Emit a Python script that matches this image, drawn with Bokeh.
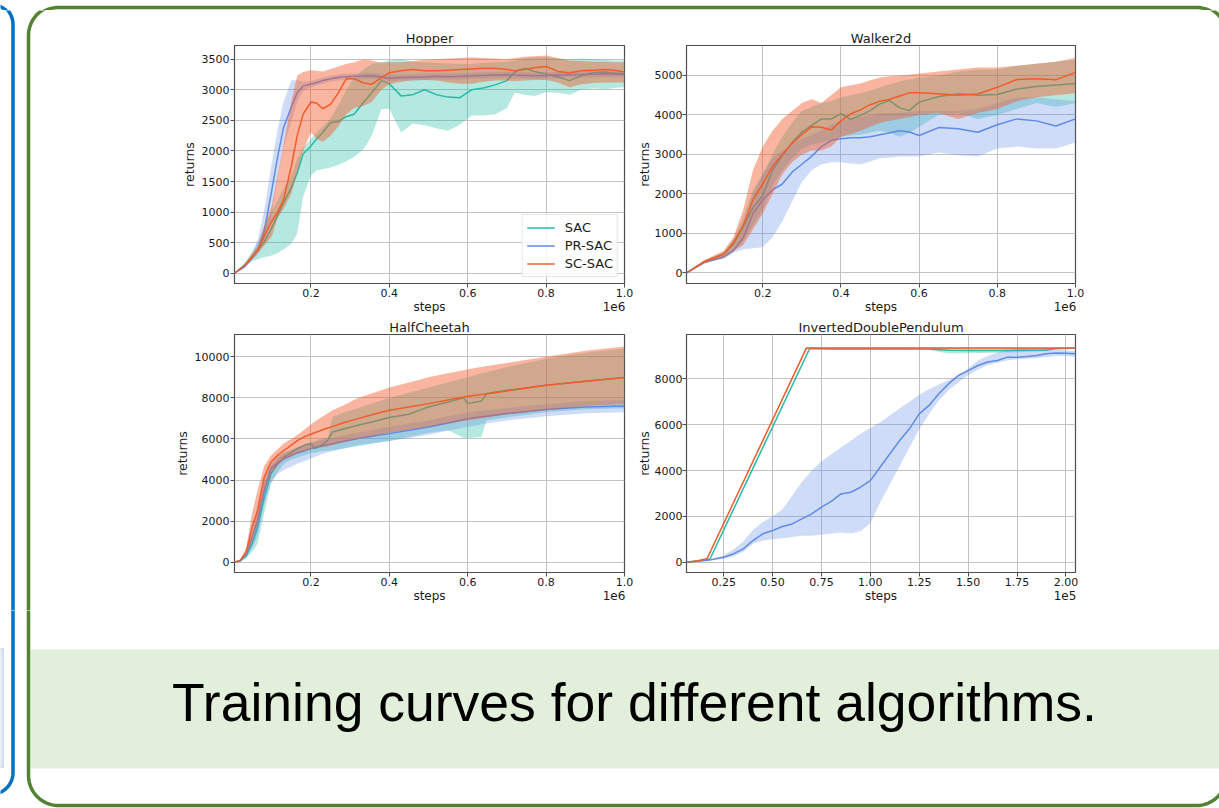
import numpy as np
from bokeh.plotting import figure
from bokeh.layouts import row, column
from bokeh.models import (Range1d, FixedTicker, NumeralTickFormatter, LinearAxis,
                          CustomJSTickFormatter, Legend, LegendItem)
from bokeh.core.properties import value
from bokeh.embed import file_html
from bokeh.resources import INLINE

# ---------------------------------------------------------------- data
series_names = ["SAC", "PR-SAC", "SC-SAC"]
caption = "Training curves for different algorithms."

# Hopper (steps in units of 1e6)
hopper_x = [0.005, 0.03, 0.05, 0.065, 0.08, 0.1, 0.115, 0.13, 0.15, 0.165, 0.18, 0.2, 0.215,
            0.23, 0.25, 0.27, 0.29, 0.31, 0.335, 0.355, 0.38, 0.4, 0.43, 0.46, 0.49, 0.52,
            0.55, 0.58, 0.61, 0.64, 0.67, 0.7, 0.72, 0.745, 0.77, 0.8, 0.83, 0.86, 0.89,
            0.92, 0.95, 0.975, 1.0]
hopper_sac = [0, 130, 270, 380, 500, 740, 950, 1150, 1400, 1640, 1950, 2080, 2200, 2300, 2460,
              2480, 2560, 2600, 2800, 2950, 3150, 3100, 2900, 2920, 3000, 2920, 2880, 2870,
              3000, 3030, 3080, 3150, 3290, 3350, 3300, 3260, 3210, 3150, 3230, 3280, 3290,
              3270, 3260]
hopper_sac_lo = [0, 110, 200, 230, 260, 290, 330, 390, 480, 650, 1250, 1600, 1680, 1700, 1730,
                 1770, 1830, 1900, 2030, 2250, 2680, 2690, 2300, 2450, 2420, 2370, 2330, 2430,
                 2580, 2580, 2600, 2700, 2950, 2920, 2900, 2960, 2950, 2920, 3000, 3020, 3010,
                 3030, 3040]
hopper_sac_hi = [0, 160, 350, 520, 750, 1000, 1200, 1380, 1600, 1870, 2050, 2200, 2300, 2400,
                 2530, 2750, 3000, 3200, 3340, 3420, 3450, 3480, 3500, 3460, 3450, 3440, 3430,
                 3420, 3420, 3440, 3450, 3460, 3480, 3520, 3530, 3530, 3510, 3500, 3510, 3500,
                 3490, 3480, 3480]
hopper_pr = [0, 100, 250, 390, 660, 1350, 1900, 2380, 2720, 2950, 3060, 3095, 3120, 3150, 3180,
             3200, 3215, 3220, 3225, 3230, 3210, 3190, 3200, 3205, 3210, 3220, 3215, 3220, 3230,
             3235, 3240, 3245, 3240, 3235, 3230, 3235, 3240, 3245, 3250, 3255, 3260, 3255, 3250]
hopper_pr_lo = [0, 90, 210, 320, 480, 950, 1550, 2050, 2480, 2800, 2980, 3040, 3070, 3100, 3130,
                3150, 3165, 3170, 3175, 3180, 3160, 3140, 3150, 3155, 3160, 3170, 3165, 3170,
                3180, 3185, 3190, 3195, 3190, 3185, 3180, 3185, 3190, 3195, 3200, 3205, 3210,
                3205, 3200]
hopper_pr_hi = [0, 120, 320, 550, 1000, 1800, 2350, 2800, 3150, 3160, 3130, 3140, 3170, 3200,
                3230, 3250, 3265, 3270, 3275, 3280, 3260, 3240, 3250, 3255, 3260, 3270, 3265,
                3270, 3280, 3285, 3290, 3295, 3290, 3285, 3280, 3285, 3290, 3295, 3300, 3305,
                3310, 3305, 3300]
hopper_sc = [0, 120, 270, 380, 600, 850, 1000, 1200, 1750, 2250, 2600, 2800, 2780, 2690, 2760,
             2950, 3180, 3180, 3110, 3090, 3200, 3280, 3310, 3330, 3310, 3310, 3320, 3330, 3340,
             3350, 3350, 3330, 3310, 3330, 3360, 3380, 3300, 3280, 3310, 3320, 3330, 3320, 3290]
hopper_sc_lo = [0, 110, 230, 330, 450, 600, 900, 1050, 1300, 1650, 2000, 2300, 2200, 2150, 2250,
                2400, 2600, 2700, 2740, 2800, 3000, 3090, 3130, 3150, 3160, 3150, 3120, 3100,
                3100, 3130, 3150, 3150, 3140, 3150, 3160, 3160, 3120, 3040, 3090, 3110, 3120,
                3120, 3120]
hopper_sc_hi = [0, 140, 320, 450, 750, 1100, 1600, 2100, 2800, 3230, 3290, 3320, 3310, 3300,
                3340, 3380, 3420, 3450, 3500, 3480, 3440, 3450, 3450, 3470, 3490, 3500, 3510,
                3520, 3530, 3520, 3510, 3500, 3520, 3540, 3550, 3560, 3520, 3480, 3470, 3460,
                3460, 3450, 3450]

# Walker2d (steps in units of 1e6)
walker_x = [0.005, 0.05, 0.1, 0.125, 0.15, 0.175, 0.2, 0.225, 0.25, 0.275, 0.3, 0.325, 0.35,
            0.375, 0.4, 0.425, 0.45, 0.475, 0.5, 0.525, 0.55, 0.575, 0.6, 0.65, 0.7, 0.75, 0.8,
            0.85, 0.9, 0.95, 1.0]
walker_sac = [0, 270, 480, 720, 1160, 1650, 1960, 2600, 2970, 3300, 3565, 3735, 3900, 3900,
              4030, 3890, 3990, 4110, 4280, 4365, 4180, 4110, 4325, 4470, 4535, 4500, 4520,
              4660, 4720, 4760, 4800]
walker_sac_lo = [0, 230, 400, 560, 800, 1200, 1600, 2200, 2600, 2900, 3150, 3250, 3300, 3350,
                 3450, 3480, 3500, 3550, 3600, 3550, 3450, 3550, 3700, 4000, 4050, 3900, 4000,
                 4150, 4300, 4200, 4300]
walker_sac_hi = [0, 310, 520, 850, 1400, 2100, 2500, 3000, 3450, 3800, 4100, 4200, 4300, 4350,
                 4450, 4500, 4550, 4620, 4700, 4780, 4850, 4900, 4950, 5000, 5100, 5150, 5150,
                 5250, 5300, 5350, 5400]
walker_pr = [0, 260, 400, 560, 880, 1500, 1850, 2100, 2250, 2550, 2750, 2950, 3200, 3350, 3400,
             3420, 3420, 3450, 3500, 3550, 3600, 3570, 3480, 3680, 3650, 3560, 3750, 3900, 3850,
             3720, 3900]
walker_pr_lo = [0, 240, 350, 500, 600, 620, 650, 900, 1300, 1800, 2300, 2600, 2750, 2800, 2800,
                2770, 2750, 2820, 2900, 2920, 2950, 2950, 2950, 3050, 2980, 2950, 3150, 3200,
                3150, 3150, 3300]
walker_pr_hi = [0, 290, 450, 650, 1100, 2000, 2500, 2900, 3100, 3250, 3400, 3500, 3600, 3750,
                3850, 3900, 3950, 4000, 4050, 4050, 4050, 4080, 4100, 4100, 4100, 4150, 4300,
                4450, 4450, 4400, 4350]
walker_sc = [0, 280, 470, 760, 1200, 1850, 2250, 2700, 3000, 3280, 3500, 3700, 3690, 3620, 3850,
             4030, 4130, 4260, 4350, 4400, 4480, 4560, 4560, 4540, 4500, 4530, 4700, 4900, 4920,
             4890, 5080]
walker_sc_lo = [0, 250, 380, 550, 700, 1100, 1500, 2000, 2500, 2800, 3000, 3100, 3100, 3200,
                3450, 3520, 3600, 3700, 3800, 3850, 3900, 3950, 4000, 4050, 3900, 4050, 4150,
                4350, 4450, 4500, 4550]
walker_sc_hi = [0, 320, 560, 900, 1600, 2600, 3200, 3600, 3900, 4100, 4300, 4400, 4300, 4500,
                4700, 4750, 4800, 4880, 4950, 4980, 5000, 5020, 5050, 5100, 5150, 5200, 5200,
                5250, 5300, 5350, 5450]

# HalfCheetah (steps in units of 1e6)
cheetah_x = [0.005, 0.02, 0.035, 0.05, 0.064, 0.081, 0.098, 0.115, 0.132, 0.15, 0.166, 0.183,
             0.2, 0.21, 0.226, 0.243, 0.255, 0.285, 0.32, 0.36, 0.4, 0.45, 0.5, 0.55, 0.59, 0.6,
             0.635, 0.648, 0.7, 0.8, 0.9, 1.0]
cheetah_sac = [0, 60, 300, 900, 1700, 3170, 4300, 4800, 5120, 5350, 5530, 5690, 5770, 5530,
               5690, 5935, 6340, 6500, 6670, 6850, 7040, 7200, 7560, 7800, 8000, 7720, 7850,
               8210, 8370, 8620, 8810, 8990]
cheetah_sac_lo = [0, 40, 200, 500, 900, 2400, 3800, 4400, 4800, 5000, 5100, 5200, 5300, 5330,
                  5400, 5430, 5450, 5530, 5650, 5780, 5900, 6100, 6300, 6420, 6050, 6050, 6100,
                  6900, 7050, 7300, 7450, 7500]
cheetah_sac_hi = [0, 80, 400, 1300, 2500, 3900, 4700, 5050, 5300, 5450, 5600, 5750, 5850, 5900,
                  6000, 6060, 7070, 7300, 7500, 7750, 8000, 8250, 8500, 8750, 8950, 9000, 9200,
                  9250, 9500, 9900, 10200, 10400]
cheetah_pr = [0, 80, 400, 1220, 2030, 3500, 4550, 4850, 5040, 5200, 5320, 5430, 5530, 5580,
              5650, 5720, 5770, 5890, 6020, 6140, 6260, 6420, 6585, 6780, 6950, 6990, 7080,
              7110, 7240, 7430, 7560, 7610]
cheetah_pr_lo = [0, 50, 250, 700, 1300, 2800, 3900, 4300, 4500, 4650, 4800, 4920, 5050, 5120,
                 5250, 5350, 5400, 5550, 5700, 5800, 5900, 6050, 6200, 6400, 6560, 6600, 6700,
                 6750, 6900, 7100, 7250, 7300]
cheetah_pr_hi = [0, 110, 550, 1700, 2800, 4200, 4900, 5150, 5350, 5480, 5600, 5700, 5800, 5850,
                 5950, 6020, 6050, 6180, 6300, 6450, 6600, 6750, 6900, 7100, 7250, 7300, 7380,
                 7400, 7500, 7700, 7850, 7900]
cheetah_sc = [0, 100, 500, 1700, 2520, 4150, 4880, 5200, 5450, 5700, 5935, 6100, 6230, 6300,
              6420, 6530, 6600, 6800, 6990, 7200, 7400, 7560, 7720, 7900, 8040, 8080, 8160,
              8190, 8340, 8620, 8810, 8990]
cheetah_sc_lo = [0, 80, 350, 1000, 1800, 3400, 4300, 4700, 5000, 5150, 5300, 5400, 5500, 5550,
                 5600, 5650, 5700, 5850, 6000, 6150, 6300, 6450, 6600, 6750, 6870, 6900, 7000,
                 7050, 7200, 7400, 7600, 7700]
cheetah_sc_hi = [0, 130, 700, 2400, 3500, 4700, 5200, 5500, 5800, 6000, 6200, 6450, 6700, 6850,
                 7050, 7250, 7400, 7650, 8000, 8250, 8500, 8750, 9000, 9200, 9350, 9400, 9500,
                 9550, 9700, 10000, 10300, 10500]

# InvertedDoublePendulum (steps in units of 1e5)
idp_sac_x = [0.06, 0.12, 0.18, 0.69, 0.8, 1.0, 1.3, 1.4, 1.5, 1.7, 1.9, 1.95, 2.05]
idp_sac = [0, 60, 140, 9320, 9300, 9300, 9300, 9250, 9240, 9240, 9260, 9320, 9330]
idp_sac_lo = [0, 50, 120, 9280, 9270, 9270, 9250, 9100, 9120, 9150, 9200, 9300, 9320]
idp_sac_hi = [0, 70, 160, 9350, 9340, 9340, 9340, 9340, 9340, 9350, 9340, 9340, 9340]
idp_pr_x = [0.06, 0.17, 0.25, 0.3, 0.35, 0.4, 0.45, 0.5, 0.55, 0.6, 0.65, 0.7, 0.75, 0.8, 0.85,
            0.9, 0.95, 1.0, 1.05, 1.1, 1.15, 1.2, 1.25, 1.3, 1.35, 1.4, 1.45, 1.5, 1.55, 1.6,
            1.65, 1.7, 1.75, 1.8, 1.85, 1.9, 1.95, 2.0, 2.05]
idp_pr = [0, 80, 220, 360, 580, 945, 1240, 1380, 1560, 1670, 1890, 2110, 2400, 2650, 2980, 3050,
          3270, 3560, 4145, 4730, 5310, 5820, 6470, 6840, 7345, 7780, 8145, 8360, 8580, 8730,
          8800, 8945, 8945, 8975, 9020, 9090, 9130, 9120, 9090]
idp_pr_lo = [0, 60, 150, 250, 450, 800, 950, 1000, 1050, 1100, 1150, 1150, 1200, 1250, 1300,
             1250, 1350, 1700, 2600, 3400, 4200, 5000, 5800, 6470, 7050, 7500, 7850, 8150, 8400,
             8600, 8700, 8800, 8850, 8880, 8900, 8950, 8980, 9000, 8950]
idp_pr_hi = [0, 100, 300, 550, 900, 1400, 1750, 2000, 2300, 2900, 3500, 4000, 4400, 4700, 5000,
             5300, 5600, 5850, 6100, 6400, 6700, 7000, 7300, 7550, 7750, 7950, 8150, 8450, 8800,
             9000, 9150, 9250, 9300, 9320, 9330, 9330, 9320, 9250, 9200]
idp_sc_x = [0.06, 0.12, 0.165, 0.673, 2.05]
idp_sc = [0, 60, 150, 9340, 9340]
idp_sc_lo = [0, 50, 130, 9310, 9320]
idp_sc_hi = [0, 70, 170, 9360, 9360]

x_ticks_1e6 = [0.2, 0.4, 0.6, 0.8, 1.0]
x_ticks_1e5 = [0.25, 0.5, 0.75, 1.0, 1.25, 1.5, 1.75, 2.0]
hopper_yticks = [0, 500, 1000, 1500, 2000, 2500, 3000, 3500]
walker_yticks = [0, 1000, 2000, 3000, 4000, 5000]
cheetah_yticks = [0, 2000, 4000, 6000, 8000, 10000]
idp_yticks = [0, 2000, 4000, 6000, 8000]

# ---------------------------------------------------------------- styles
COLORS = {"SAC": "#27bba5", "PR-SAC": "#5f8be6", "SC-SAC": "#f25c2a"}
ALPHAS = {"SAC": 0.34, "PR-SAC": 0.3, "SC-SAC": 0.45}
FONT = "DejaVu Sans"
INK = "#1a1a1a"
FRAME_W = 390


def style_axis(ax):
    ax.axis_line_color = None
    ax.major_tick_out = 4
    ax.major_tick_in = 0
    ax.minor_tick_out = 0
    ax.minor_tick_in = 0
    ax.major_tick_line_color = "#4d4d4d"
    ax.major_label_text_font = FONT
    ax.major_label_text_font_size = "11px"
    ax.major_label_text_color = INK
    ax.axis_label_text_font = FONT
    ax.axis_label_text_font_size = "12.5px"
    ax.axis_label_text_font_style = "normal"
    ax.axis_label_text_color = INK


def make_panel(title, series, xr, yr, xticks, yticks, xfmt, offset_text,
               w, h, bl, br, bt, bb, ystand=(1, 2), legend=False):
    p = figure(width=w, height=h, x_range=Range1d(*xr), y_range=Range1d(*yr),
               output_backend="svg", toolbar_location=None, title=title,
               min_border_left=bl, min_border_right=br,
               min_border_top=bt, min_border_bottom=bb)
    p.title.text_font = FONT
    p.title.text_font_size = "13px"
    p.title.text_font_style = "normal"
    p.title.text_color = INK
    p.title.align = "center"
    p.title.standoff = 0
    p.background_fill_color = "white"
    p.border_fill_color = "white"
    p.outline_line_color = "#4d4d4d"
    p.outline_line_width = 1.2

    xax = p.xaxis[0]
    yax = p.yaxis[0]
    style_axis(xax)
    style_axis(yax)
    xax.ticker = FixedTicker(ticks=xticks)
    xax.formatter = NumeralTickFormatter(format=xfmt)
    xax.major_label_standoff = 1
    yax.ticker = FixedTicker(ticks=yticks)
    yax.formatter = NumeralTickFormatter(format="0")
    yax.axis_label = "returns"
    yax.major_label_standoff = ystand[0]
    yax.axis_label_standoff = ystand[1]
    p.grid.grid_line_color = "#c2c2c2"
    p.grid.grid_line_width = 1

    # second row under the tick labels: "steps" centred, offset text at the right
    mid = (xr[0] + xr[1]) / 2
    off_pos = xr[1] - 10.5 / FRAME_W * (xr[1] - xr[0])
    sub = LinearAxis(ticker=FixedTicker(ticks=[mid, off_pos]),
                     formatter=CustomJSTickFormatter(
                         args=dict(mid=mid, off=offset_text),
                         code="return (tick > mid) ? off : 'steps';"))
    sub.axis_line_color = None
    sub.major_tick_out = 0
    sub.major_tick_in = 0
    sub.minor_tick_out = 0
    sub.minor_tick_in = 0
    sub.major_tick_line_color = None
    sub.major_label_standoff = 0
    sub.major_label_text_font = FONT
    sub.major_label_text_font_size = "12px"
    sub.major_label_text_color = INK
    p.add_layout(sub, "below")

    items = []
    for name, xs, mean, lo, hi in series:
        c = COLORS[name]
        p.varea(x=xs, y1=lo, y2=hi, fill_color=c, fill_alpha=ALPHAS[name])
        r = p.line(xs, mean, line_color=c, line_width=1.5)
        items.append(LegendItem(label=name, renderers=[r]))

    if legend:
        lg = Legend(items=items, location="bottom_right")
        lg.margin = 6
        lg.padding = 4
        lg.spacing = 1
        lg.glyph_width = 28
        lg.glyph_height = 17
        lg.label_height = 17
        lg.label_standoff = 10
        lg.label_text_font = FONT
        lg.label_text_font_size = "13px"
        lg.label_text_color = INK
        lg.border_line_color = "#d0d0d0"
        lg.border_line_width = 1
        lg.background_fill_alpha = 0.85
        p.add_layout(lg)
    return p


def rounded_rect(x0, y0, x1, y1, r, n=24):
    t = np.linspace(0, np.pi / 2, n)
    xs = np.concatenate([
        (x0 + r) - r * np.cos(t), (x1 - r) + r * np.sin(t),
        (x1 - r) + r * np.cos(t), (x0 + r) - r * np.sin(t)])
    ys = np.concatenate([
        (y0 + r) - r * np.sin(t), (y0 + r) - r * np.cos(t),
        (y1 - r) + r * np.sin(t), (y1 - r) + r * np.cos(t)])
    return list(xs) + [xs[0]], list(ys) + [ys[0]]


def deco(x0, x1, y0, y1, with_caption=False):
    p = figure(width=x1 - x0, height=y1 - y0, x_range=Range1d(x0, x1),
               y_range=Range1d(y1, y0), output_backend="svg", toolbar_location=None,
               x_axis_type=None, y_axis_type=None,
               min_border_left=0, min_border_right=0, min_border_top=0, min_border_bottom=0)
    p.outline_line_color = None
    p.background_fill_color = "white"
    p.border_fill_color = "white"
    # caption band
    p.quad(left=[30], right=[1226], top=[649], bottom=[768],
           fill_color="#e2efda", line_color=None)
    if with_caption:
        p.text(x=[634], y=[702], text=[caption], text_font=value("Liberation Sans"),
               text_font_size=value("53.5px"), text_align="center",
               text_baseline="alphabetic", text_color="black")
    # neighbouring (blue) panel edge
    p.quad(left=[-10], right=[3], top=[648], bottom=[767],
           fill_color="#dde5f4", line_color="#cfd8ec")
    bx, by = rounded_rect(-200, 2, 12.5, 794, 22)
    p.line(bx, by, line_color="#0070c0", line_width=3.5)
    # green panel border
    gx, gy = rounded_rect(28, 5, 1226, 805, 30)
    p.line(gx, gy, line_color="#548235", line_width=3.5)
    return p


hopper = make_panel("Hopper",
                    [("SAC", hopper_x, hopper_sac, hopper_sac_lo, hopper_sac_hi),
                     ("PR-SAC", hopper_x, hopper_pr, hopper_pr_lo, hopper_pr_hi),
                     ("SC-SAC", hopper_x, hopper_sc, hopper_sc_lo, hopper_sc_hi)],
                    (0.005, 1.0), (-168, 3724), x_ticks_1e6, hopper_yticks, "0.0", "1e6",
                    463, 306, 64, 9, 35, 33, legend=True)
walker = make_panel("Walker2d",
                    [("SAC", walker_x, walker_sac, walker_sac_lo, walker_sac_hi),
                     ("PR-SAC", walker_x, walker_pr, walker_pr_lo, walker_pr_hi),
                     ("SC-SAC", walker_x, walker_sc, walker_sc_lo, walker_sc_hi)],
                    (0.005, 1.0), (-271, 5760), x_ticks_1e6, walker_yticks, "0.0", "1e6",
                    457, 306, 52, 15, 35, 33, ystand=(0, 0))
cheetah = make_panel("HalfCheetah",
                     [("SAC", cheetah_x, cheetah_sac, cheetah_sac_lo, cheetah_sac_hi),
                      ("PR-SAC", cheetah_x, cheetah_pr, cheetah_pr_lo, cheetah_pr_hi),
                      ("SC-SAC", cheetah_x, cheetah_sc, cheetah_sc_lo, cheetah_sc_hi)],
                     (0.005, 1.0), (-502, 11086), x_ticks_1e6, cheetah_yticks, "0.0", "1e6",
                     463, 294, 64, 9, 18, 38)
idp = make_panel("InvertedDoublePendulum",
                 [("SAC", idp_sac_x, idp_sac, idp_sac_lo, idp_sac_hi),
                  ("PR-SAC", idp_pr_x, idp_pr, idp_pr_lo, idp_pr_hi),
                  ("SC-SAC", idp_sc_x, idp_sc, idp_sc_lo, idp_sc_hi)],
                 (0.06, 2.049), (-449, 9933), x_ticks_1e5, idp_yticks, "0.00", "1e5",
                 457, 294, 52, 15, 18, 38, ystand=(0, 0))

top = deco(0, 1219, 0, 10)
left = deco(0, 170, 10, 610)
right = deco(1090, 1219, 10, 610)
bottom = deco(0, 1219, 610, 808, with_caption=True)

grid = column(row(hopper, walker, spacing=0), row(cheetah, idp, spacing=0), spacing=0)
page = column(top, row(left, grid, right, spacing=0), bottom, spacing=0)

open("out.html", "w").write(file_html(page, INLINE))
